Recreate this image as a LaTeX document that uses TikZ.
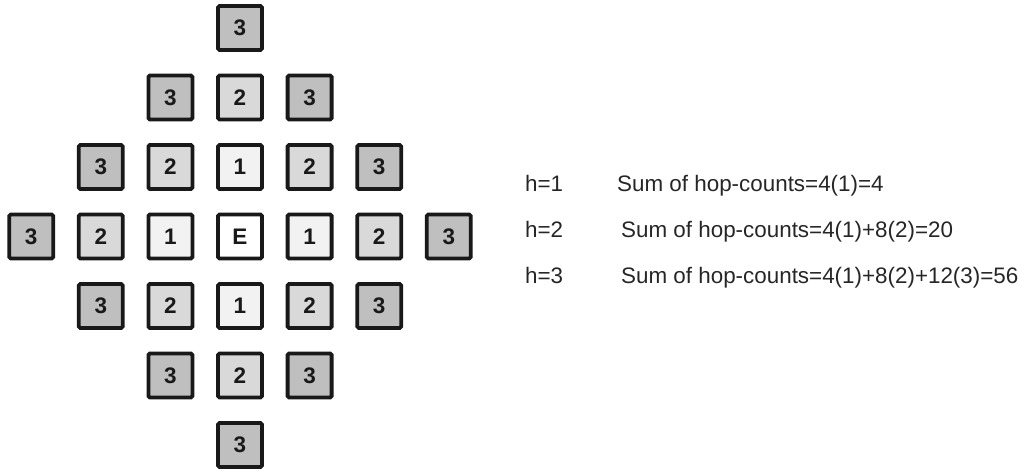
\documentclass[tikz,border=0pt]{standalone}
\usepackage{fontspec}
\setmainfont{Liberation Sans}
\begin{document}
\begin{tikzpicture}[x=1pt,y=-1pt,
  cell/.style={draw=black!90, line width=3.8pt, rounded corners=1.5pt,
    minimum size=44pt, inner sep=0pt, text=black!90,
    font=\fontsize{22.5}{22.5}\selectfont\bfseries},
  lvl0/.style={cell, fill=white},
  lvl1/.style={cell, fill=black!5},
  lvl2/.style={cell, fill=black!15},
  lvl3/.style={cell, fill=black!25},
  txt/.style={anchor=base west, inner sep=0pt, text=black!85,
    font=\fontsize{22.4}{27}\selectfont}]
\useasboundingbox (0,0) rectangle (1029,472);
\foreach \i in {-3,...,3}{
  \foreach \j in {-3,...,3}{
    \pgfmathtruncatemacro\d{abs(\i)+abs(\j)}
    \ifnum\d<4
      \node[lvl\d] (c\i\j) at ({240+69.6*\i},{236.5+69.5*\j}) {\ifnum\d=0 E\else\d\fi};
    \fi
  }
}
\node[txt] (h1) at (525,191) {h=1};
\node[txt] (h2) at (525,237) {h=2};
\node[txt] (h3) at (525,283) {h=3};
\node[txt] (s1) at (617,191) {Sum of hop-counts=4(1)=4};
\node[txt] (s2) at (621,237) {Sum of hop-counts=4(1)+8(2)=20};
\node[txt] (s3) at (621,283) {Sum of hop-counts=4(1)+8(2)+12(3)=56};
\end{tikzpicture}
\end{document}
